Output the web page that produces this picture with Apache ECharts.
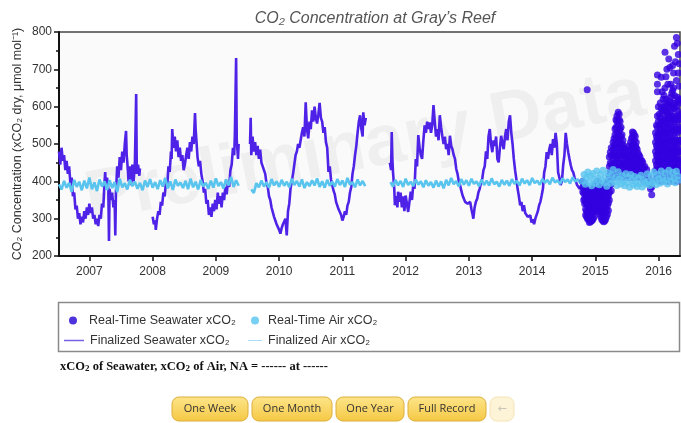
<!DOCTYPE html>
<html>
<head>
<meta charset="utf-8">
<script src="https://cdn.jsdelivr.net/npm/echarts@6/dist/echarts.min.js"></script>
<style>
html,body{margin:0;padding:0;background:#fff;}
#c{width:681px;height:423px;}
</style>
</head>
<body>
<div id="c"></div>
<script>
// ---------- DATA (time in decimal years, values in µmol/mol) ----------
const yearTicks = [2007,2008,2009,2010,2011,2012,2013,2014,2015,2016];

// Finalized seawater xCO2 (line); nulls mark data gaps
const seaFinal = [
[2006.52,480],[2006.54,445],[2006.56,490],[2006.58,455],[2006.60,470],[2006.62,430],[2006.64,455],[2006.66,420],[2006.68,440],[2006.70,395],
[2006.72,410],[2006.74,360],[2006.76,370],[2006.78,325],[2006.80,335],[2006.82,300],[2006.84,315],[2006.86,285],[2006.88,305],[2006.90,290],
[2006.92,320],[2006.94,300],[2006.96,330],[2006.98,310],[2007.00,340],[2007.02,315],[2007.04,330],[2007.06,300],[2007.08,310],[2007.10,285],
[2007.12,300],[2007.14,280],[2007.16,310],[2007.18,300],[2007.20,340],[2007.22,330],[2007.24,400],[2007.25,425],[2007.26,395],[2007.28,410],
[2007.30,380],[2007.31,240],[2007.32,380],[2007.34,350],[2007.36,370],[2007.38,330],[2007.40,350],[2007.41,255],[2007.42,370],[2007.44,440],
[2007.46,410],[2007.48,465],[2007.50,430],[2007.52,480],[2007.54,450],[2007.56,500],[2007.58,535],[2007.59,470],[2007.60,450],[2007.62,400],
[2007.64,440],[2007.66,390],[2007.68,445],[2007.70,400],[2007.72,450],[2007.74,634],[2007.75,420],[2007.77,445],[2007.79,415],[2007.80,435],
[2007.90,null],
[2008.00,305],[2008.02,285],[2008.04,295],[2008.05,270],[2008.07,300],[2008.09,320],[2008.11,310],[2008.13,345],[2008.15,335],[2008.17,370],
[2008.19,360],[2008.21,395],[2008.23,385],[2008.25,440],[2008.27,425],[2008.29,480],[2008.30,460],[2008.31,540],[2008.33,490],[2008.35,520],
[2008.37,480],[2008.39,510],[2008.41,465],[2008.43,490],[2008.45,455],[2008.47,470],[2008.49,430],[2008.51,445],[2008.53,470],[2008.55,490],
[2008.57,460],[2008.59,505],[2008.61,480],[2008.63,520],[2008.65,500],[2008.67,583],[2008.68,540],[2008.70,490],[2008.71,465],[2008.73,440],
[2008.75,455],[2008.77,420],[2008.79,400],[2008.81,370],[2008.83,380],[2008.85,340],[2008.87,350],[2008.89,310],[2008.91,330],[2008.93,305],
[2008.95,340],[2008.97,320],[2008.99,350],[2009.01,325],[2009.03,370],[2009.05,340],[2009.07,360],[2009.09,330],[2009.11,370],[2009.13,350],
[2009.15,385],[2009.17,365],[2009.19,400],[2009.21,385],[2009.23,430],[2009.25,445],[2009.27,490],[2009.29,470],[2009.30,525],[2009.32,730],
[2009.33,510],[2009.35,460],[2009.36,500],
[2009.45,null],
[2009.54,500],[2009.55,570],[2009.56,470],[2009.58,520],[2009.60,480],[2009.62,505],[2009.64,470],[2009.66,495],[2009.68,460],[2009.70,485],
[2009.72,450],[2009.74,455],[2009.76,430],[2009.78,420],[2009.80,395],[2009.82,385],[2009.84,360],[2009.86,350],[2009.88,330],[2009.90,325],
[2009.92,305],[2009.94,300],[2009.96,285],[2009.98,290],[2010.00,270],[2010.02,260],[2010.04,275],[2010.06,285],[2010.08,280],[2010.10,300],
[2010.12,255],[2010.14,320],[2010.16,340],[2010.18,380],[2010.20,400],[2010.22,420],[2010.24,445],[2010.26,470],[2010.28,480],[2010.30,500],
[2010.32,490],[2010.34,510],[2010.36,530],[2010.38,545],[2010.40,520],[2010.42,612],[2010.44,540],[2010.46,515],[2010.48,560],[2010.50,540],
[2010.52,590],[2010.54,560],[2010.56,600],[2010.58,570],[2010.60,555],[2010.62,580],[2010.64,610],[2010.66,570],[2010.68,560],[2010.70,530],
[2010.72,545],[2010.74,505],[2010.76,490],[2010.78,425],[2010.80,440],[2010.82,405],[2010.84,410],[2010.86,375],[2010.88,365],[2010.90,345],
[2010.92,340],[2010.94,325],[2010.96,320],[2010.98,310],[2011.00,295],[2011.02,305],[2011.04,320],[2011.06,310],[2011.08,335],[2011.10,345],
[2011.12,370],[2011.14,385],[2011.16,420],[2011.18,440],[2011.20,470],[2011.22,495],[2011.24,530],[2011.26,560],[2011.28,577],[2011.30,540],
[2011.32,520],[2011.33,585],[2011.35,550],[2011.37,570],
[2011.55,null],
[2011.75,450],[2011.77,430],[2011.78,532],[2011.79,460],[2011.80,425],[2011.82,380],[2011.83,336],[2011.85,360],[2011.87,330],[2011.88,372],
[2011.90,345],[2011.92,370],[2011.94,330],[2011.96,360],[2011.98,320],[2012.00,362],[2012.02,340],[2012.04,318],[2012.06,345],[2012.08,372],
[2012.10,350],[2012.12,390],[2012.14,380],[2012.16,460],[2012.18,440],[2012.20,524],[2012.22,490],[2012.24,470],[2012.26,460],[2012.28,510],
[2012.30,550],[2012.32,530],[2012.34,560],[2012.36,540],[2012.38,558],[2012.40,530],[2012.42,550],[2012.44,604],[2012.46,560],[2012.48,520],
[2012.50,540],[2012.52,510],[2012.54,577],[2012.56,545],[2012.58,520],[2012.60,500],[2012.62,520],[2012.64,486],[2012.66,500],[2012.68,470],
[2012.70,522],[2012.72,495],[2012.74,486],[2012.76,470],[2012.78,460],[2012.80,433],[2012.82,420],[2012.84,400],[2012.86,390],[2012.88,375],
[2012.90,362],[2012.92,365],[2012.94,345],[2012.96,350],[2012.98,340],[2013.00,336],[2013.02,345],[2013.04,325],[2013.06,310],[2013.07,300],
[2013.09,330],[2013.11,345],[2013.13,353],[2013.15,370],[2013.17,380],[2013.19,395],[2013.21,406],[2013.23,430],[2013.25,440],[2013.27,480],
[2013.29,460],[2013.31,520],[2013.33,540],[2013.35,500],[2013.37,478],[2013.39,510],[2013.41,495],[2013.43,520],[2013.45,460],[2013.47,451],
[2013.49,490],[2013.51,522],[2013.53,500],[2013.55,486],[2013.57,520],[2013.59,540],[2013.61,510],[2013.63,560],[2013.65,577],[2013.67,530],
[2013.69,500],[2013.71,460],[2013.73,430],[2013.75,406],[2013.77,380],[2013.79,360],[2013.81,336],[2013.83,345],[2013.85,320],[2013.87,336],
[2013.89,315],[2013.91,320],[2013.93,305],[2013.95,300],[2013.97,309],[2013.99,290],[2014.01,298],[2014.03,285],[2014.05,300],[2014.07,310],
[2014.09,320],[2014.11,336],[2014.13,345],[2014.15,362],[2014.17,380],[2014.19,424],[2014.21,440],[2014.23,478],[2014.25,460],[2014.27,486],
[2014.29,500],[2014.31,470],[2014.33,513],[2014.35,490],[2014.37,530],[2014.39,500],[2014.41,424],[2014.43,410],[2014.45,390],[2014.47,400],
[2014.49,443],[2014.51,470],[2014.53,530],[2014.55,500],[2014.57,478],[2014.59,460],[2014.61,443],[2014.63,430],[2014.65,424],[2014.67,410],
[2014.69,400],[2014.71,390],[2014.73,395],[2014.75,380],[2014.77,385]
];

// Finalized air xCO2 (line), sampled every airStep years from airStart; nulls are gaps
const airStart = 2006.52;
const airStep = 0.04;
const airFinal = [
392,378,401,383,396,372,404,385,399,376,
402,381,410,379,397,374,405,386,400,377,
403,382,398,371,407,384,395,378,404,387,
399,380,396,376,402,385,406,383,398,379,
403,386,409,381,400,377,405,388,397,382,
401,379,407,384,399,378,404,386,396,380,
402,383,408,387,398,381,405,389,412,385,
403,388,null,null,null,null,378,369,395,384,
402,386,398,383,406,389,400,385,404,388,
399,384,407,390,401,386,405,382,398,387,
403,389,408,385,400,383,404,388,399,386,
406,390,402,385,409,391,398,384,405,389,
401,387,null,null,null,null,null,null,null,null,
null,398,386,404,389,401,385,407,390,399,
387,405,391,400,384,403,388,398,383,402,
386,400,381,404,389,409,392,401,386,406,
391,403,388,407,393,400,387,405,390,402,
389,408,392,399,386,404,391,402,388,406,
393,401,389,407,394,403,390,409,395,402,
391,406,396,404,392,410,397,403,393,408,
398,405,394,411,399,406,395,409
];

// Real-time air xCO2 (points), every rtAirStep years from rtAirStart
const rtAirStart = 2014.80;
const rtAirStep = 0.02;
const rtAir = [
400,418,392,410,425,397,414,388,421,405,
394,428,408,391,419,402,430,396,412,387,
423,404,395,417,432,399,410,389,426,406,
393,415,401,388,420,397,411,384,418,402,
390,413,396,386,409,394,416,385,405,398,
392,420,401,389,414,396,425,403,391,418,
407,395,428,410,399,422,404,393,430,412,
400,424,408,396,427,415,403
];

// Real-time seawater xCO2 (points): [time, [values observed around that time]]
const rtSea = [
[2014.87,[645]],
[2014.80,[400,385,372]],
[2014.815,[390,368,350]],
[2014.83,[395,375,355,340]],
[2014.845,[385,365,345,325,310]],
[2014.86,[380,360,340,320,305]],
[2014.875,[375,355,335,315,300]],
[2014.89,[370,350,330,312,298]],
[2014.905,[360,340,320,300,290]],
[2014.92,[365,345,325,305,292]],
[2014.935,[370,350,330,310,294]],
[2014.95,[375,355,335,315,296]],
[2014.965,[380,360,340,320,300]],
[2014.98,[385,365,345,325,305]],
[2014.995,[390,372,352,335,318]],
[2015.01,[395,378,360,342,325]],
[2015.025,[398,380,362,345,328]],
[2015.04,[400,382,365,348,330]],
[2015.055,[395,378,358,338,320]],
[2015.07,[390,372,352,332,312]],
[2015.085,[385,365,345,325,305]],
[2015.10,[380,360,340,318,298]],
[2015.115,[378,356,335,314,295]],
[2015.13,[375,352,330,310,292]],
[2015.145,[380,358,336,314,294]],
[2015.16,[385,362,340,318,298]],
[2015.175,[392,370,348,326,305]],
[2015.19,[398,378,356,335,312]],
[2015.205,[400,382,362,342,322]],
[2015.22,[405,388,370,350,415,440,465]],
[2015.235,[425,450,478]],
[2015.25,[410,392,375,420,445,470,490]],
[2015.28,[410,435,460,485,505]],
[2015.295,[420,445,470,495,515]],
[2015.31,[425,450,475,500,525,540]],
[2015.325,[410,435,460,490,515,545,565]],
[2015.34,[415,440,470,500,530,560,575]],
[2015.36,[430,460,490,520,550,585]],
[2015.375,[415,445,475,505,535,565,580]],
[2015.39,[420,450,480,510,540,560]],
[2015.405,[430,460,490,520,545]],
[2015.42,[410,440,470,500,525]],
[2015.435,[415,445,470,490,510]],
[2015.45,[425,450,475,495]],
[2015.465,[420,445,468,488]],
[2015.48,[415,440,460,480]],
[2015.51,[410,435,455,470]],
[2015.525,[415,440,460,480]],
[2015.54,[420,445,470,495]],
[2015.555,[410,435,460,485,505]],
[2015.57,[415,440,465,490,515]],
[2015.585,[420,445,470,495,520,532]],
[2015.60,[425,450,475,500,530]],
[2015.615,[410,435,460,485,510,525]],
[2015.63,[420,445,470,495,520]],
[2015.645,[415,440,465,490,505]],
[2015.66,[410,435,460,485]],
[2015.675,[425,450,475]],
[2015.69,[420,445,470]],
[2015.705,[410,430,450,465]],
[2015.72,[415,435,455]],
[2015.735,[420,440,455]],
[2015.75,[410,430,450]],
[2015.765,[400,418,435]],
[2015.78,[405,425,440]],
[2015.81,[400,420,432]],
[2015.84,[395,412]],
[2015.87,[380,400]],
[2015.89,[364,385]],
[2015.95,[405,430,455,480,505,530]],
[2015.965,[420,445,470,495,520,550]],
[2015.98,[415,440,465,490,515,545,575,640,660,685]],
[2015.995,[405,430,455,480,505,530,560,600]],
[2016.01,[400,425,450,475,500,525,550,580]],
[2016.025,[415,440,465,490,515,540,570,610]],
[2016.04,[410,435,460,485,510,535,560,595,679]],
[2016.055,[400,425,450,475,500,525,550,585,640]],
[2016.07,[405,430,455,480,505,530,555,590,620]],
[2016.085,[410,435,460,485,510,535,565,600,630]],
[2016.10,[415,440,465,490,515,540,570,600,650,746]],
[2016.115,[405,430,455,480,505,530,560,590,620,680]],
[2016.13,[400,425,450,475,500,525,555,585,610,700]],
[2016.145,[415,440,465,490,515,545,575,605,660]],
[2016.16,[410,435,460,485,510,540,570,605,728]],
[2016.175,[400,425,450,475,500,525,555,585,615,705]],
[2016.19,[405,430,455,480,505,530,560,590,625,660]],
[2016.205,[410,435,460,485,510,540,570,600,635]],
[2016.22,[415,440,465,490,515,545,575,610,643,710]],
[2016.235,[405,430,455,480,505,535,565,600,650,690]],
[2016.25,[400,425,450,475,500,530,560,595,630,762]],
[2016.265,[415,440,465,490,515,545,575,610,720]],
[2016.28,[410,435,460,485,510,540,570,600,670,785]],
[2016.295,[400,425,450,475,500,530,560,590,625,770]],
[2016.31,[405,430,455,480,505,535,565,615,690,740]],
[2016.325,[410,435,460,485,510,540,575,610,655,715]],
[2016.33,[420,450,480,510,545,580,620]]
];

const xMin = 2006.52, xMax = 2016.337;

// ---------- BUILD ----------
const airFinalData = airFinal.map((v,i)=>[+(airStart + i*airStep).toFixed(3), v]);
const rtAirData = rtAir.map((v,i)=>[+(rtAirStart + i*rtAirStep).toFixed(3), v]);
const rtSeaData = [];
rtSea.forEach(([t, vs]) => vs.forEach(v => rtSeaData.push([t, v])));

const FONT = "'Liberation Sans', Arial, sans-serif";
const chart = echarts.init(document.getElementById('c'), null, {renderer:'canvas'});

function button(x, w, label, faded){
  return {
    type:'group', x:x, y:397,
    children:[
      {type:'rect', shape:{x:0,y:0,width:w,height:24,r:7},
       style:{fill: faded ? '#fdf3d6' : new echarts.graphic.LinearGradient(0,0,0,1,[{offset:0,color:'#fde58a'},{offset:1,color:'#f5c843'}]),
              stroke: faded ? '#f3e3b6' : '#dcae3c', lineWidth:1}},
      {type:'text', x:w/2, y:12,
       style:{text:label, fill: faded ? '#c9c4b8' : '#333', font:"11px 'Open Sans', 'DejaVu Sans', sans-serif", align:'center', verticalAlign:'middle'}}
    ]
  };
}

function legendItem(left, top, iconW, textPad, item){
  return {
    left:left, top:top, padding:0, orient:'horizontal', itemWidth:iconW, itemHeight:8, itemGap:0,
    selectedMode:false,
    textStyle:{color:'#333', fontSize:12.5, fontFamily:FONT, padding:[0,0,0,textPad]},
    data:[item]
  };
}
const LINE_ICON = 'path://M0,0L20,0L20,1.5L0,1.5Z';

const option = {
  animation:false,
  backgroundColor:'#ffffff',
  title:{
    text:'CO₂ Concentration at Gray\u2019s Reef',
    left:370, top:6, textAlign:'center',
    textStyle:{fontStyle:'italic', fontWeight:'normal', fontSize:16, color:'#555', fontFamily:FONT}
  },
  grid:{left:59, right:1, top:32, bottom:167, show:true, backgroundColor:'#fafafa', borderColor:'#444', borderWidth:1.5, containLabel:false},
  xAxis:{
    type:'value', min:xMin, max:xMax, splitNumber:10,
    axisLine:{show:true, lineStyle:{color:'#111', width:2}},
    axisTick:{show:true, length:5, lineStyle:{color:'#111', width:1.5}},
    axisLabel:{color:'#333', fontSize:12, fontFamily:FONT, margin:10, showMinLabel:false, showMaxLabel:false,
      formatter:(v)=> yearTicks.includes(Math.round(v*1000)/1000) ? String(Math.round(v)) : ''},
    splitLine:{show:false}
  },
  yAxis:{
    type:'value', min:200, max:800, interval:100,
    name:'CO₂ Concentration (xCO₂ dry, μmol mol⁻¹)',
    nameLocation:'middle', nameGap:35, nameMoveOverlap:false,
    nameTextStyle:{color:'#333', fontSize:12.5, fontFamily:FONT},
    axisLine:{show:true, lineStyle:{color:'#111', width:2}},
    axisTick:{show:true, length:5, lineStyle:{color:'#111', width:1.5}},
    minorTick:{show:true, splitNumber:2, length:3, lineStyle:{color:'#111', width:1.5}},
    axisLabel:{color:'#333', fontSize:12, fontFamily:FONT, margin:7},
    splitLine:{show:false}
  },
  legend:[
    legendItem(69, 314, 8, 7, {name:'Real-Time Seawater xCO₂', icon:'circle', itemStyle:{color:'#2200d4'}}),
    legendItem(251, 314, 8, 4, {name:'Real-Time Air xCO₂', icon:'circle', itemStyle:{color:'#55c3ee'}}),
    legendItem(64, 334, 20, 1, {name:'Finalized Seawater xCO₂', icon:LINE_ICON, itemStyle:{color:'#7462e4'}}),
    legendItem(248, 334, 14, 1, {name:'Finalized Air xCO₂', icon:LINE_ICON, itemStyle:{color:'#a9dcf5'}})
  ],
  graphic:[
    {type:'text', x:365, y:148, rotation:0.19, z:1, silent:true,
     style:{text:'Preliminary Data', fill:'rgba(0,0,0,0.045)', font:"bold 72px 'Liberation Sans', Arial, sans-serif", align:'center', verticalAlign:'middle'}},
    {type:'rect', shape:{x:58.5, y:302.5, width:621, height:49}, z:0, silent:true,
     style:{fill:'none', stroke:'#8a8a8a', lineWidth:1.5}},
    {type:'text', x:60, y:367, silent:true,
     style:{text:'{b|xCO}{s|2}{b| of Seawater, xCO}{s|2}{b| of Air, NA = ------ at ------}',
       verticalAlign:'middle',
       rich:{b:{font:"bold 12.5px 'Liberation Serif', 'Times New Roman', serif", fill:'#111'},
             s:{font:"bold 9px 'Liberation Serif', 'Times New Roman', serif", fill:'#111', padding:[4,0,0,0]}}}},
    button(172, 76, 'One Week'),
    button(252, 80, 'One Month'),
    button(336, 68, 'One Year'),
    button(408, 78, 'Full Record'),
    button(490, 24, '\u2190', true)
  ],
  series:[
    {name:'Finalized Seawater xCO₂', type:'line', data:seaFinal, showSymbol:false, symbol:'none',
     connectNulls:false, lineStyle:{color:'#4f22e8', width:2.6}, itemStyle:{color:'#4f22e8'}, z:2},
    {name:'Finalized Air xCO₂', type:'line', data:airFinalData, showSymbol:false, symbol:'none',
     connectNulls:false, lineStyle:{color:'#59c4ee', width:2.6}, itemStyle:{color:'#59c4ee'}, z:3},
    {name:'Real-Time Seawater xCO₂', type:'scatter', data:rtSeaData, symbolSize:7,
     itemStyle:{color:'#3300e0'}, z:4},
    {name:'Real-Time Air xCO₂', type:'scatter', data:rtAirData, symbolSize:7,
     itemStyle:{color:'#5ac4ef'}, z:5}
  ]
};
chart.setOption(option);
</script>
</body>
</html>
